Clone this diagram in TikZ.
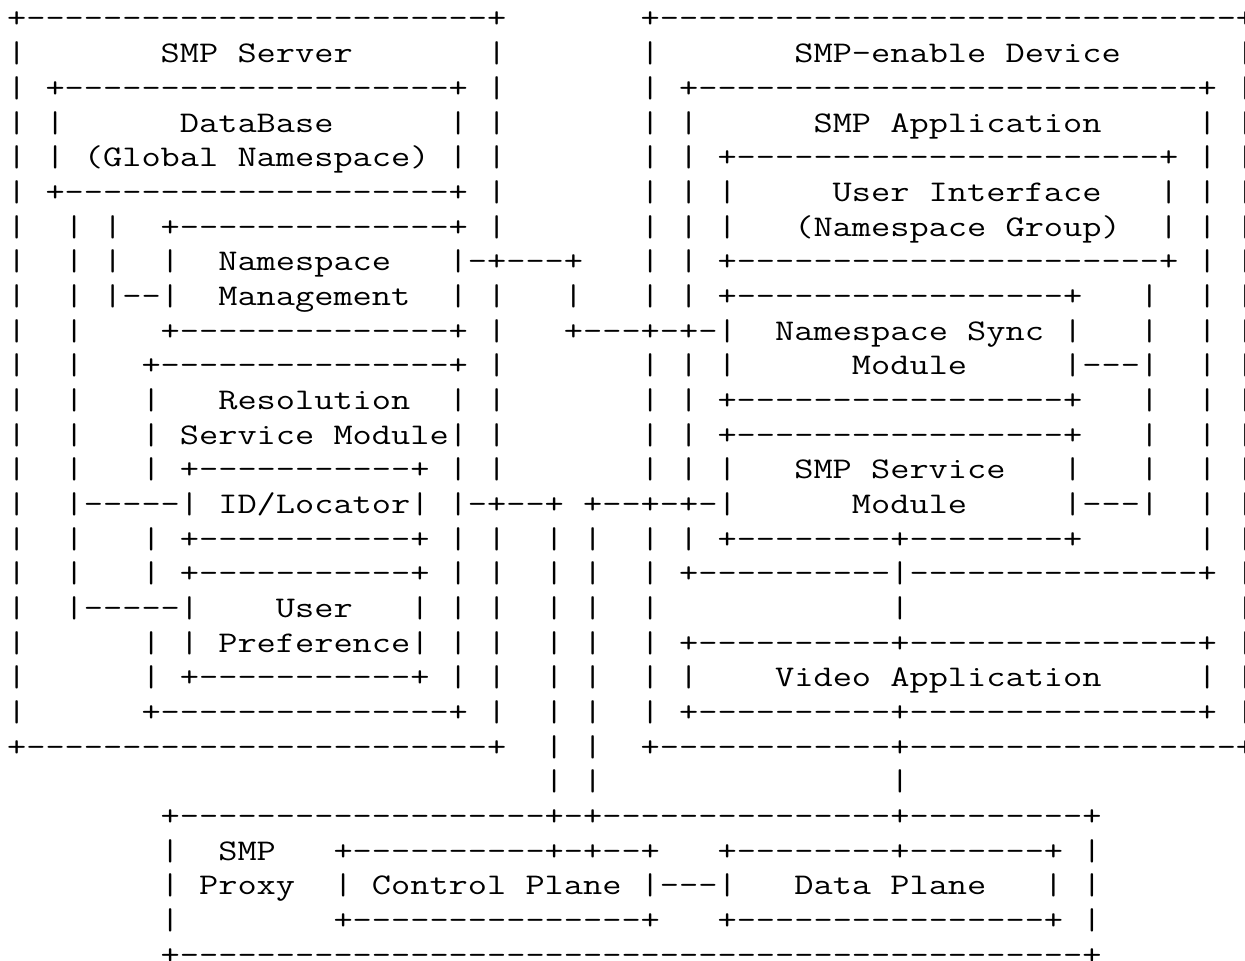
\documentclass[tikz,border=0pt]{standalone}
\usepackage{fontspec}
\ExplSyntaxOn
\cs_new:Npn \hh #1 {\prg_replicate:nn{#1}{-\kern0pt}}
\cs_new:Npn \bb #1 {\prg_replicate:nn{#1}{\ }}
\ExplSyntaxOff
\tikzset{
  asciirow/.style={anchor=base west, inner sep=0pt, outer sep=0pt, xscale=1.2428,
    font=\ttfamily\fontsize{15pt}{17pt}\selectfont\frenchspacing}
}
\newcommand\arow[3]{\node[asciirow] (#1) at (7.1,{28+34.67*(#2)}) {#3};}
\begin{document}
\begin{tikzpicture}[x=0.5pt,y=-0.5pt]
\useasboundingbox (0,0) rectangle (1245,961);
\fill[white] (0,0) rectangle (1245,961);
\clip (0,0) rectangle (1245,961);
\arow{r0}{0}{+\hh{24}+\bb{7}+\hh{30}+}
\arow{r1}{1}{|\bb{7}SMP Server\bb{7}|\bb{7}|\bb{7}SMP-enable Device\bb{6}|}
\arow{r2}{2}{| +\hh{20}+ |\bb{7}| +\hh{26}+ |}
\arow{r3}{3}{| |\bb{6}DataBase\bb{6}| |\bb{7}| |\bb{6}SMP Application\bb{5}| |}
\arow{r4}{4}{| | (Global Namespace) | |\bb{7}| | +\hh{22}+ | |}
\arow{r5}{5}{| +\hh{20}+ |\bb{7}| | |\bb{5}User Interface\bb{3}| | |}
\arow{r6}{6}{|\bb{2}| |\bb{2}+\hh{14}+ |\bb{7}| | |\bb{3}(Namespace Group)\bb{2}| | |}
\arow{r7}{7}{|\bb{2}| |\bb{2}|\bb{2}Namespace\bb{3}|-+\hh{3}+\bb{3}| | +\hh{22}+ | |}
\arow{r8}{8}{|\bb{2}| |\hh{2}|\bb{2}Management\bb{2}| |\bb{3}|\bb{3}| | +\hh{17}+\bb{3}|\bb{2}| |}
\arow{r9}{9}{|\bb{2}|\bb{4}+\hh{14}+ |\bb{3}+\hh{3}+-+-|\bb{2}Namespace Sync |\bb{3}|\bb{2}| |}
\arow{r10}{10}{|\bb{2}|\bb{3}+\hh{15}+ |\bb{7}| | |\bb{6}Module\bb{5}|\hh{3}|\bb{2}| |}
\arow{r11}{11}{|\bb{2}|\bb{3}|\bb{3}Resolution\bb{2}| |\bb{7}| | +\hh{17}+\bb{3}|\bb{2}| |}
\arow{r12}{12}{|\bb{2}|\bb{3}| Service Module| |\bb{7}| | +\hh{17}+\bb{3}|\bb{2}| |}
\arow{r13}{13}{|\bb{2}|\bb{3}| +\hh{11}+ | |\bb{7}| | |\bb{3}SMP Service\bb{3}|\bb{3}|\bb{2}| |}
\arow{r14}{14}{|\bb{2}|\hh{5}| ID/Locator| |-+\hh{2}+ +\hh{2}+-+-|\bb{6}Module\bb{5}|\hh{3}|\bb{2}| |}
\arow{r15}{15}{|\bb{2}|\bb{3}| +\hh{11}+ | |\bb{2}| |\bb{2}| | +\hh{8}+\hh{8}+\bb{6}| |}
\arow{r16}{16}{|\bb{2}|\bb{3}| +\hh{11}+ | |\bb{2}| |\bb{2}| +\hh{10}|\hh{15}+ |}
\arow{r17}{17}{|\bb{2}|\hh{5}|\bb{4}User\bb{3}| | |\bb{2}| |\bb{2}|\bb{12}|\bb{17}|}
\arow{r18}{18}{|\bb{6}| | Preference| | |\bb{2}| |\bb{2}| +\hh{10}+\hh{15}+ |}
\arow{r19}{19}{|\bb{6}| +\hh{11}+ | |\bb{2}| |\bb{2}| |\bb{4}Video Application\bb{5}| |}
\arow{r20}{20}{|\bb{6}+\hh{15}+ |\bb{2}| |\bb{2}| +\hh{10}+\hh{15}+ |}
\arow{r21}{21}{+\hh{24}+\bb{2}| |\bb{2}+\hh{12}+\hh{17}+}
\arow{r22}{22}{\bb{28}| |\bb{15}|}
\arow{r23}{23}{\bb{8}+\hh{19}+-+\hh{15}+\hh{9}+}
\arow{r24}{24}{\bb{8}|\bb{2}SMP\bb{3}+\hh{10}+-+\hh{2}+\bb{3}+\hh{8}+\hh{7}+ |}
\arow{r25}{25}{\bb{8}| Proxy\bb{2}| Control Plane |\hh{3}|\bb{3}Data Plane\bb{3}| |}
\arow{r26}{26}{\bb{8}|\bb{8}+\hh{15}+\bb{3}+\hh{16}+ |}
\arow{r27}{27}{\bb{8}+\hh{47}+}
\end{tikzpicture}
\end{document}
